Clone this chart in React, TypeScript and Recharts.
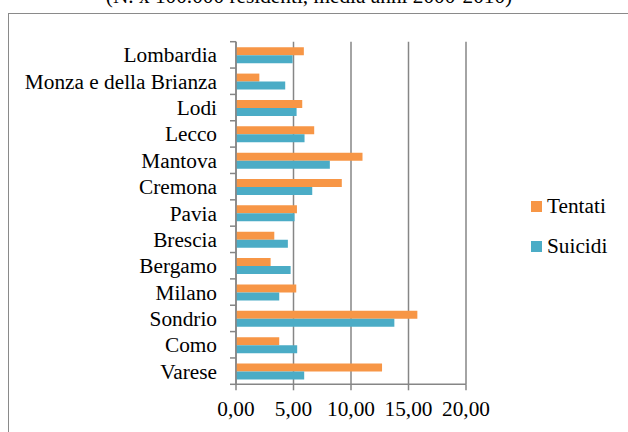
import React from 'react';
import { BarChart, Bar, XAxis, YAxis, CartesianGrid, Legend } from 'recharts';

const categories = ['Lombardia', 'Monza e della Brianza', 'Lodi', 'Lecco', 'Mantova', 'Cremona', 'Pavia', 'Brescia', 'Bergamo', 'Milano', 'Sondrio', 'Como', 'Varese'];
const tentati = [5.9, 2.03, 5.76, 6.8, 11.0, 9.2, 5.3, 3.33, 3.01, 5.24, 15.77, 3.76, 12.7];
const suicidi = [4.92, 4.28, 5.27, 5.96, 8.16, 6.63, 5.09, 4.51, 4.75, 3.76, 13.77, 5.32, 5.93];
const seriesNames = ['Tentati', 'Suicidi'];
const xTicks = [0, 5, 10, 15, 20];
const title = '(N. x 100.000 residenti, media anni 2000-2010)';

const data = categories.map((name, i) => ({ name, Tentati: tentati[i], Suicidi: suicidi[i] }));

const W = 628;
const H = 432;
const FONT = 'Liberation Serif, DejaVu Serif, serif';
const FS = 21.3;
const GRAY = '#868686';
const ORANGE = '#F79646';
const BLUE = '#4BACC6';

const AXIS_X = 236;
const PLOT_TOP = 41.7;
const X_AXIS_H = 30;
const MARGIN = { top: PLOT_TOP, right: 162, bottom: 17.7, left: 0 };
const PLOT_BOTTOM = H - MARGIN.bottom - X_AXIS_H;
const BAND = (PLOT_BOTTOM - PLOT_TOP) / categories.length;

const fmt = (v: number) => v.toFixed(2).replace('.', ',');

const CategoryTick = (props: any) => {
  const { x, y, payload, index } = props;
  const top = y - BAND / 2;
  const bottom = y + BAND / 2;
  return (
    <g>
      <line x1={AXIS_X - 6} x2={AXIS_X} y1={top} y2={top} stroke={GRAY} strokeWidth={1.5} />
      {index === categories.length - 1 && (
        <line x1={AXIS_X - 6} x2={AXIS_X} y1={bottom} y2={bottom} stroke={GRAY} strokeWidth={1.5} />
      )}
      <text x={x} y={y} dy={FS * 0.355} textAnchor="end" fontSize={FS} style={{ fontFamily: FONT }} fill="#000">
        {payload.value}
      </text>
    </g>
  );
};

const LegendContent = (props: any) => {
  const items = [...(props.payload || [])].sort(
    (a: any, b: any) => seriesNames.indexOf(a.value) - seriesNames.indexOf(b.value)
  );
  return (
    <svg width={90} height={70} style={{ display: 'block', overflow: 'visible' }}>
      {items.map((it: any, i: number) => (
        <g key={it.value}>
          <rect x={0} y={6 + i * 40} width={11} height={11} fill={it.color} />
          <text x={16} y={18.3 + i * 40} fontSize={FS} style={{ fontFamily: FONT }} fill="#000">
            {it.value}
          </text>
        </g>
      ))}
    </svg>
  );
};

export default function App() {
  return (
    <div style={{ position: 'absolute', left: 0, top: 0, width: W, height: H, overflow: 'hidden', background: '#fff', fontFamily: FONT }}>
      <div
        style={{
          position: 'absolute',
          left: 8,
          top: 13,
          width: 700,
          height: 500,
          border: `1.5px solid #8a8a8a`,
          boxSizing: 'border-box',
        }}
      />
      <svg width={W} height={30} style={{ position: 'absolute', left: 0, top: 0 }}>
        <text x={309} y={2.5} textAnchor="middle" fontSize={FS} style={{ fontFamily: FONT }} fill="#000">
          {title}
        </text>
      </svg>
      <div style={{ position: 'absolute', left: 0, top: 0 }}>
        <BarChart
          width={W}
          height={H}
          data={data}
          layout="vertical"
          margin={MARGIN}
          barCategoryGap="21%"
          barGap={0}
          style={{ fontFamily: FONT }}
        >
          <CartesianGrid horizontal={false} vertical={true} stroke={GRAY} strokeWidth={1.5} />
          <XAxis
            type="number"
            domain={[0, 20]}
            ticks={xTicks}
            tickFormatter={fmt}
            interval={0}
            height={X_AXIS_H}
            tickSize={6}
            tickMargin={11}
            axisLine={{ stroke: GRAY, strokeWidth: 1.5 }}
            tickLine={{ stroke: GRAY, strokeWidth: 1.5 }}
            tick={{ fontSize: FS, fontFamily: FONT, fill: '#000' }}
          />
          <YAxis
            type="category"
            dataKey="name"
            width={AXIS_X}
            interval={0}
            tickSize={6}
            tickMargin={13}
            tickLine={false}
            axisLine={{ stroke: GRAY, strokeWidth: 1.5 }}
            tick={CategoryTick}
          />
          <Legend
            layout="vertical"
            align="center"
            verticalAlign="middle"
            content={LegendContent}
            wrapperStyle={{ left: 531, top: 195, width: 90, height: 70 }}
          />
          <Bar dataKey="Tentati" fill={ORANGE} isAnimationActive={false} />
          <Bar dataKey="Suicidi" fill={BLUE} isAnimationActive={false} />
        </BarChart>
      </div>
    </div>
  );
}
